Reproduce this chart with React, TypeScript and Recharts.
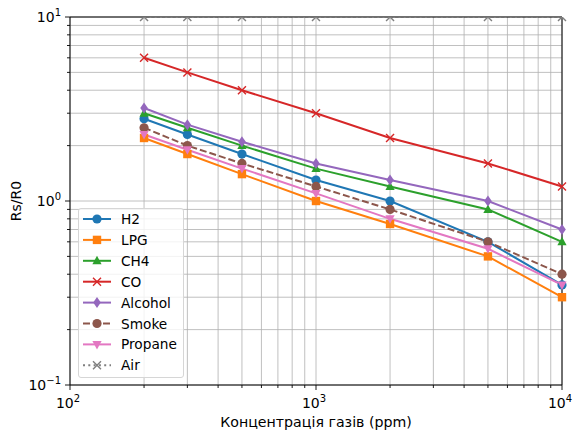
import React from "react"
import { LineChart, Line, XAxis, YAxis, CartesianGrid, ReferenceArea } from "recharts"

// concentrations (ppm)
const ppm = [200, 300, 500, 1000, 2000, 5000, 10000]

// Rs/R0 per gas
const h2 = [2.8, 2.3, 1.8, 1.3, 1.0, 0.6, 0.35]
const lpg = [2.2, 1.8, 1.4, 1.0, 0.75, 0.5, 0.3]
const ch4 = [3.0, 2.5, 2.0, 1.5, 1.2, 0.9, 0.6]
const co = [6.0, 5.0, 4.0, 3.0, 2.2, 1.6, 1.2]
const alcohol = [3.2, 2.6, 2.1, 1.6, 1.3, 1.0, 0.7]
const smoke = [2.5, 2.0, 1.6, 1.2, 0.9, 0.6, 0.4]
const propane = [2.3, 1.9, 1.5, 1.1, 0.8, 0.55, 0.35]
const air = [10, 10, 10, 10, 10, 10, 10]

const xTicks = [100, 200, 300, 400, 500, 600, 700, 800, 900, 1000, 2000, 3000, 4000, 5000, 6000, 7000, 8000, 9000, 10000]
const yTicks = [0.1, 0.2, 0.3, 0.4, 0.5, 0.6, 0.7, 0.8, 0.9, 1, 2, 3, 4, 5, 6, 7, 8, 9, 10]
const xMajor: Record<number, string> = { 100: "2", 1000: "3", 10000: "4" }
const yMajor: Record<number, string> = { 0.1: "\u22121", 1: "0", 10: "1" }

type Kind = "circle" | "square" | "up" | "x" | "diamond" | "down"

const series: { key: string; values: number[]; color: string; marker: Kind; dash?: string }[] = [
  { key: "H2", values: h2, color: "#1f77b4", marker: "circle" },
  { key: "LPG", values: lpg, color: "#ff7f0e", marker: "square" },
  { key: "CH4", values: ch4, color: "#2ca02c", marker: "up" },
  { key: "CO", values: co, color: "#d62728", marker: "x" },
  { key: "Alcohol", values: alcohol, color: "#9467bd", marker: "diamond" },
  { key: "Smoke", values: smoke, color: "#8c564b", marker: "circle", dash: "7 3" },
  { key: "Propane", values: propane, color: "#e377c2", marker: "down" },
  { key: "Air", values: air, color: "#7f7f7f", marker: "x", dash: "2 3.3" },
]

const data = ppm.map((p, i) => {
  const row: Record<string, number> = { ppm: p }
  series.forEach(s => (row[s.key] = s.values[i]))
  return row
})

const FONT = "'DejaVu Sans', sans-serif"

function Marker({ kind, cx, cy, color }: { kind: Kind; cx: number; cy: number; color: string }) {
  switch (kind) {
    case "circle":
      return <circle cx={cx} cy={cy} r={4.6} fill={color} />
    case "square":
      return <rect x={cx - 4.2} y={cy - 4.2} width={8.4} height={8.4} fill={color} />
    case "up":
      return <polygon points={`${cx},${cy - 5} ${cx + 4.6},${cy + 3.5} ${cx - 4.6},${cy + 3.5}`} fill={color} />
    case "down":
      return <polygon points={`${cx},${cy + 5} ${cx + 4.6},${cy - 3.5} ${cx - 4.6},${cy - 3.5}`} fill={color} />
    case "diamond":
      return <polygon points={`${cx},${cy - 5.5} ${cx + 3.8},${cy} ${cx},${cy + 5.5} ${cx - 3.8},${cy}`} fill={color} />
    case "x":
      return (
        <path
          d={`M${cx - 4},${cy - 4}L${cx + 4},${cy + 4}M${cx - 4},${cy + 4}L${cx + 4},${cy - 4}`}
          stroke={color}
          strokeWidth={1.4}
          fill="none"
        />
      )
  }
}

function XTick(props: any) {
  const { x, y, payload } = props
  const exp = xMajor[payload.value]
  return (
    <g>
      <line x1={x} x2={x} y1={y} y2={y + (exp ? 5 : 3)} stroke="#000" strokeWidth={0.9} />
      {exp && (
        <text x={x - 2} y={y + 23} textAnchor="middle" fontFamily={FONT} fontSize={14} fill="#000">
          10<tspan dy={-6.5} fontSize={10}>{exp}</tspan>
        </text>
      )}
    </g>
  )
}

function YTick(props: any) {
  const { x, y, payload } = props
  const exp = yMajor[payload.value]
  return (
    <g>
      <line x1={x} x2={x - (exp ? 5 : 3)} y1={y} y2={y} stroke="#000" strokeWidth={0.9} />
      {exp && (
        <text x={x - 9} y={y + 5} textAnchor="end" fontFamily={FONT} fontSize={14} fill="#000">
          10<tspan dy={-6.5} fontSize={10}>{exp}</tspan>
        </text>
      )}
    </g>
  )
}

function LegendBox() {
  return (
    <div
      style={{
        position: "absolute",
        left: 78,
        top: 208,
        width: 106,
        height: 170,
        border: "1px solid #d6d6d6",
        borderRadius: 3,
        background: "rgba(255,255,255,0.8)",
        boxSizing: "border-box",
      }}
    >
      <svg width={106} height={170}>
        {series.map((s, i) => {
          const cy = 10 + i * 20.9
          return (
            <g key={s.key}>
              <line x1={4} x2={32} y1={cy} y2={cy} stroke={s.color} strokeWidth={2} strokeDasharray={s.dash} />
              <Marker kind={s.marker} cx={18} cy={cy} color={s.color} />
              <text x={42} y={cy + 5} fontFamily={FONT} fontSize={13.7} fill="#000">
                {s.key}
              </text>
            </g>
          )
        })}
      </svg>
    </div>
  )
}

export default function App() {
  return (
    <div style={{ position: "relative", width: 573, height: 432, background: "#fff" }}>
      <style>{`body{margin:0}`}</style>
      <LineChart width={573} height={432} data={data} margin={{ top: 17, right: 11, left: 0, bottom: 0 }}>
        <CartesianGrid stroke="#b0b0b0" strokeWidth={0.8} />
        <XAxis
          dataKey="ppm"
          type="number"
          scale="log"
          domain={[100, 10000]}
          ticks={xTicks}
          interval={0}
          height={47}
          tickSize={0}
          tickMargin={0}
          axisLine={false}
          tick={<XTick />}
          label={() => (
            <text x={316} y={427} textAnchor="middle" fontFamily={FONT} fontSize={14.2} fill="#000">
              Концентрація газів (ppm)
            </text>
          )}
        />
        <YAxis
          type="number"
          scale="log"
          domain={[0.1, 10]}
          allowDataOverflow
          ticks={yTicks}
          interval={0}
          width={70}
          tickSize={0}
          tickMargin={0}
          axisLine={false}
          tick={<YTick />}
          label={() => (
            <text x={21} y={201} transform="rotate(-90 21 201)" textAnchor="middle" fontFamily={FONT} fontSize={14} fill="#000">
              Rs/R0
            </text>
          )}
        />
        {series.map(s => (
          <Line
            key={s.key}
            dataKey={s.key}
            stroke={s.color}
            strokeWidth={2}
            strokeDasharray={s.dash}
            isAnimationActive={false}
            dot={(p: any) => <Marker key={`${s.key}-${p.index}`} kind={s.marker} cx={p.cx} cy={p.cy} color={s.color} />}
            activeDot={false}
          />
        ))}
        <ReferenceArea x1={100} x2={10000} y1={0.1} y2={10} fill="none" stroke="#000" strokeWidth={1} />
      </LineChart>
      <LegendBox />
    </div>
  )
}
